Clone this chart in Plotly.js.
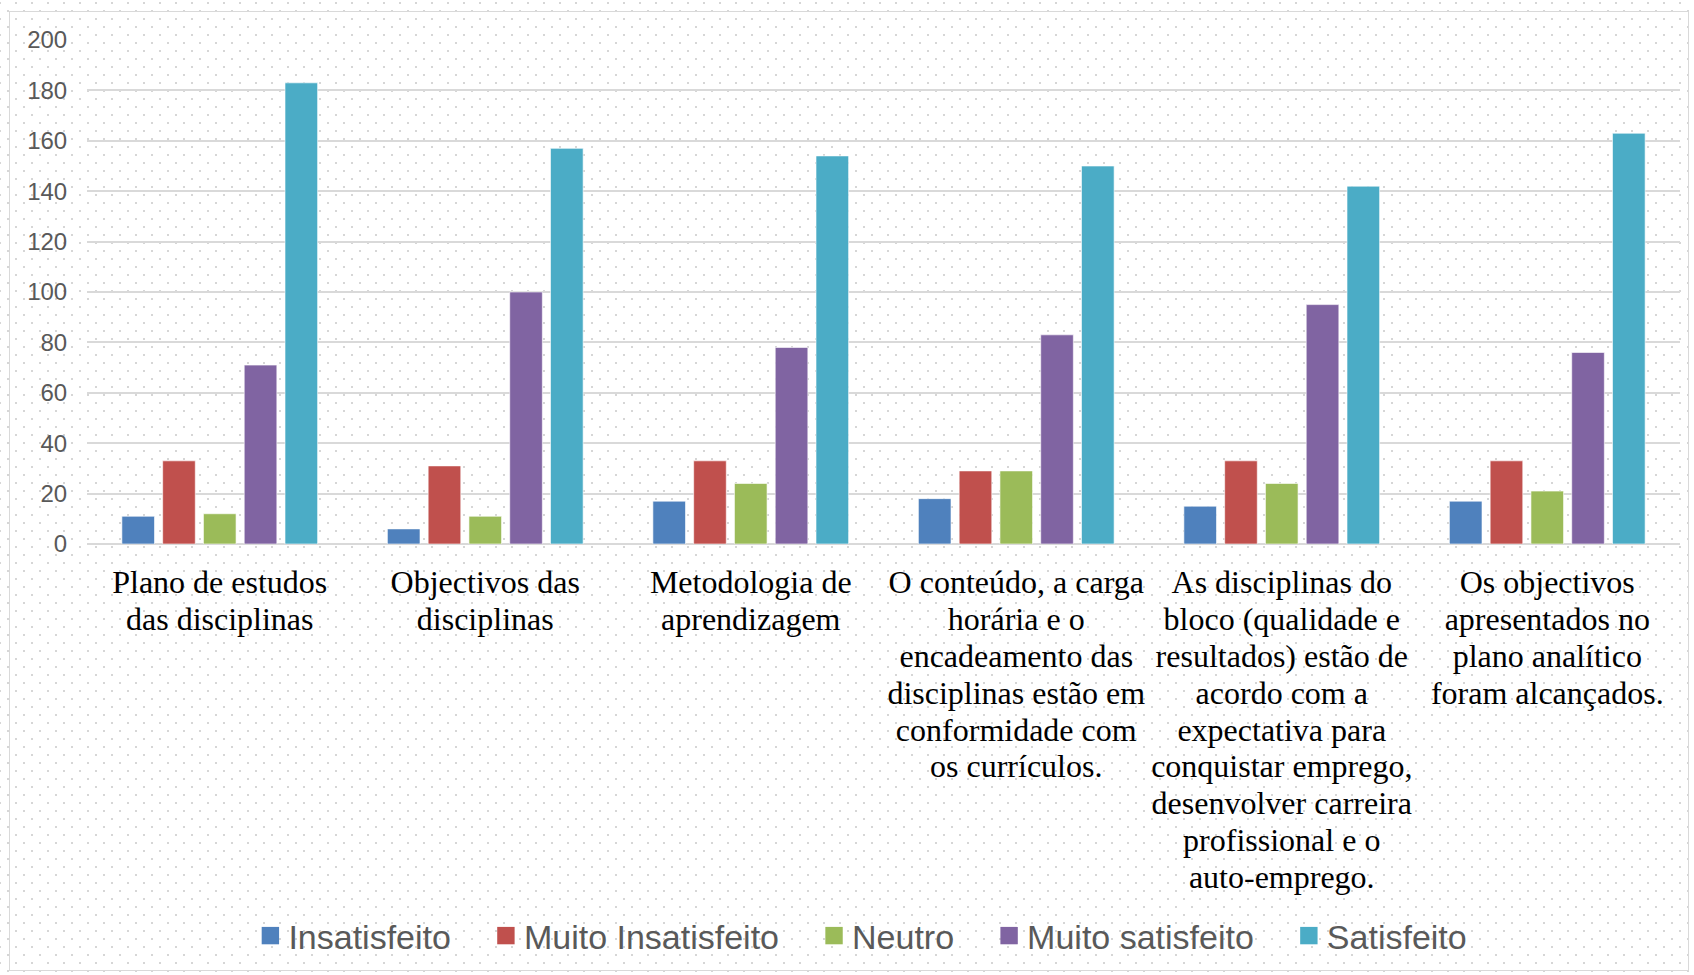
<!DOCTYPE html>
<html>
<head>
<meta charset="utf-8">
<script src="https://cdn.plot.ly/plotly-3.0.1.min.js"></script>
<style>
  html, body { margin: 0; padding: 0; }
  body {
    width: 1694px; height: 975px; overflow: hidden; position: relative;
    background-color: #ffffff;
    background-image: url("data:image/svg+xml;utf8,<svg xmlns='http://www.w3.org/2000/svg' width='16' height='16'><rect x='15' y='2' width='2' height='2' fill='%23d6d6d6'/><rect x='-1' y='2' width='2' height='2' fill='%23d6d6d6'/><rect x='7' y='10' width='2' height='2' fill='%23d6d6d6'/></svg>");
    background-size: 16px 16px;
    background-repeat: repeat;
  }
  #chart { position: absolute; left: 0; top: 0; width: 1694px; height: 975px; }
  #frame { position: absolute; left: 9px; top: 11px; width: 1680px; height: 960px;
           border: 1.5px solid #d9d9d9; pointer-events: none; box-sizing: border-box; }
</style>
</head>
<body>
<div id="chart"></div>
<div id="frame"></div>
<script>
const categories = [
  "Plano de estudos<br>das disciplinas",
  "Objectivos das<br>disciplinas",
  "Metodologia de<br>aprendizagem",
  "O conteúdo, a carga<br>horária e o<br>encadeamento das<br>disciplinas estão em<br>conformidade com<br>os currículos.",
  "As disciplinas do<br>bloco (qualidade e<br>resultados) estão de<br>acordo com a<br>expectativa para<br>conquistar emprego,<br>desenvolver carreira<br>profissional e o<br>auto-emprego.",
  "Os objectivos<br>apresentados no<br>plano analítico<br>foram alcançados."
];
const seriesNames = ["Insatisfeito", "Muito Insatisfeito", "Neutro", "Muito satisfeito", "Satisfeito"];
const insatisfeito      = [11, 6, 17, 18, 15, 17];
const muitoInsatisfeito = [33, 31, 33, 29, 33, 33];
const neutro            = [12, 11, 24, 29, 24, 21];
const muitoSatisfeito   = [71, 100, 78, 83, 95, 76];
const satisfeito        = [183, 157, 154, 150, 142, 163];
const yTicks = [0, 20, 40, 60, 80, 100, 120, 140, 160, 180, 200];

const seriesValues = [insatisfeito, muitoInsatisfeito, neutro, muitoSatisfeito, satisfeito];
const colors = ["#4F81BD", "#C0504D", "#9BBB59", "#8064A2", "#4BACC6"];

const traces = seriesNames.map((name, i) => ({
  type: "bar",
  name: name,
  x: categories,
  y: seriesValues[i],
  marker: { color: colors[i], line: { color: "rgba(255,255,255,0.6)", width: 1 } },
  hoverinfo: "x+y+name"
}));

const layout = {
  width: 1694, height: 975,
  margin: { l: 87, r: 14, t: 40, b: 431 },
  paper_bgcolor: "rgba(0,0,0,0)",
  plot_bgcolor: "rgba(0,0,0,0)",
  barmode: "group",
  bargap: 0.232,
  bargroupgap: 0.2,
  font: { family: "Liberation Sans, Arial, sans-serif", color: "#595959" },
  xaxis: {
    type: "category",
    showgrid: false,
    showline: false,
    zeroline: false,
    ticks: "outside", ticklen: 10, tickcolor: "rgba(0,0,0,0)",
    tickfont: { family: "Liberation Serif, Times New Roman, serif", size: 32, color: "#000000" },
    tickangle: 0,
    automargin: false
  },
  yaxis: {
    range: [0, 200],
    tickvals: yTicks,
    ticktext: yTicks.map(String),
    showgrid: true, gridcolor: "#d9d9d9", gridwidth: 2,
    zeroline: true, zerolinecolor: "#d9d9d9", zerolinewidth: 2,
    showline: false,
    ticks: "outside", ticklen: 14, tickcolor: "rgba(0,0,0,0)",
    tickfont: { family: "Liberation Sans, Arial, sans-serif", size: 24, color: "#595959" },
    automargin: false
  },
  showlegend: true,
  legend: {
    orientation: "h",
    xref: "paper", x: 0.488, xanchor: "center",
    yref: "container", y: 0.04, yanchor: "middle",
    font: { family: "Liberation Sans, Arial, sans-serif", size: 34, color: "#595959" },
    bgcolor: "rgba(0,0,0,0)",
    itemclick: false
  }
};

Plotly.newPlot("chart", traces, layout, { displayModeBar: false }).then(function (gd) {
  // Tighten multi-line category label spacing to match the original serif labels
  gd.querySelectorAll(".xtick text tspan.line").forEach(function (t) {
    const dy = t.getAttribute("dy");
    if (dy && dy.indexOf("em") > 0) {
      t.setAttribute("dy", (parseFloat(dy) * 1.15 / 1.3) + "em");
    }
  });
  // Legend styling: larger square keys and wider spacing between entries
  gd.querySelectorAll(".legend [clip-path]").forEach(function (el) { el.removeAttribute("clip-path"); });
  gd.querySelectorAll(".legend .legendpoints path").forEach(function (p) {
    p.setAttribute("d", "M10.7,8.7H-6.7V-8.7H10.7Z");
    p.style.strokeWidth = "0px";
  });
  const items = gd.querySelectorAll(".legend g.traces");
  items.forEach(function (g, i) {
    const tr = g.getAttribute("transform") || "";
    const m = tr.match(/translate\(\s*([-\d.]+)[ ,]+([-\d.]+)\s*\)/);
    if (m) {
      const nx = parseFloat(m[1]) + i * 28 - 60;
      g.setAttribute("transform", "translate(" + nx + "," + m[2] + ")");
    }
  });
});
</script>
</body>
</html>
